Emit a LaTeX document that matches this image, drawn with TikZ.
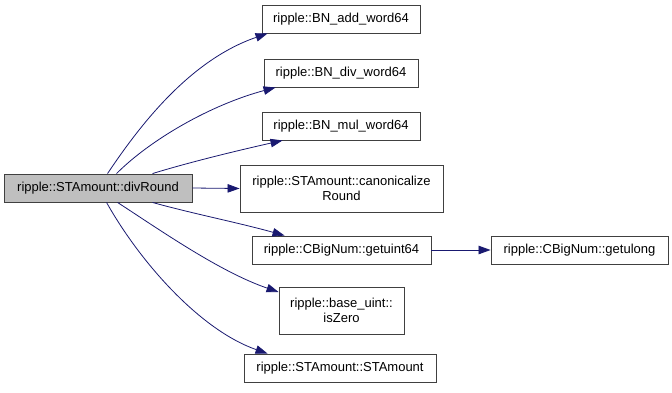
\documentclass[tikz,border=0pt]{standalone}
\usepackage{fontspec}
\setmainfont{Liberation Sans}
\usetikzlibrary{arrows.meta}
\definecolor{edgeblue}{HTML}{191970}
\definecolor{boxline}{HTML}{404040}
\definecolor{curfill}{HTML}{BFBFBF}
\begin{document}
\begin{tikzpicture}[x=1pt,y=-1pt,
  fn/.style={draw=boxline, line width=0.9pt, fill=white, inner sep=0pt, align=center, font=\fontsize{13}{15.5}\selectfont},
  cur/.style={fn, fill=curfill},
  call/.style={draw=edgeblue, line width=0.8pt, -{Triangle[length=12pt,width=8.5pt]}}]
\useasboundingbox (0,0) rectangle (672,392);
% boxes given by corner coordinates
\newcommand{\fnbox}[6][fn]{\node[#1, minimum width=#4-#2, minimum height=#5-#3] (#6) at ({(#2+#4)/2},{(#3+#5)/2})}
\fnbox[cur]{4}{174}{192}{202}{div} {ripple::STAmount::divRound};
\fnbox{262}{5}{420}{33}{add} {ripple::BN\_add\_word64};
\fnbox{264}{59}{418}{87}{dv} {ripple::BN\_div\_word64};
\fnbox{262}{112}{420}{140}{mul} {ripple::BN\_mul\_word64};
\fnbox{240}{165}{443}{212}{can} {ripple::STAmount::canonicalize\\Round};
\fnbox{252}{236}{431}{264}{gu} {ripple::CBigNum::getuint64};
\fnbox{279}{287}{404}{334}{zero} {ripple::base\_uint::\\isZero};
\fnbox{244}{354}{436}{382}{sta} {ripple::STAmount::STAmount};
\fnbox{491}{236}{668}{264}{gl} {ripple::CBigNum::getulong};
% calls from divRound
\draw[call] ([xshift=104pt]div.north west) .. controls (140,125) and (190,60) .. ([xshift=6pt]add.south west);
\draw[call] ([xshift=113pt]div.north west) .. controls (150,140) and (210,105) .. ([xshift=12pt]dv.south west);
\draw[call] ([xshift=149pt]div.north west) .. controls (190,162) and (240,150) .. ([xshift=21pt]mul.south west);
\draw[call] (div.east) -- (can.west);
\draw[call] ([xshift=149pt]div.south west) .. controls (190,213) and (240,223) .. ([xshift=33pt]gu.north west);
\draw[call] ([xshift=114pt]div.south west) .. controls (160,230) and (220,272) .. (zero.west |- 0,292);
\draw[call] ([xshift=103pt]div.south west) .. controls (140,262) and (200,330) .. ([xshift=24pt]sta.north west);
% call from getuint64
\draw[call] (gu) -- (gl);
\end{tikzpicture}
\end{document}
